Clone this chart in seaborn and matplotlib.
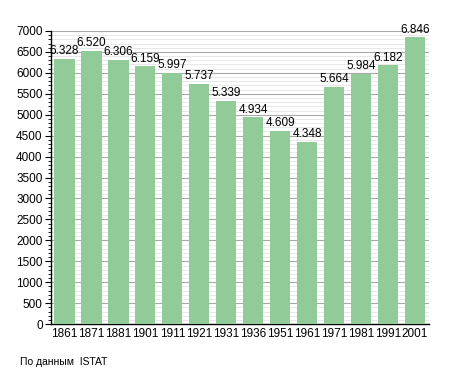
import matplotlib
matplotlib.use("Agg")
import matplotlib.pyplot as plt
import seaborn as sns
import pandas as pd
from matplotlib.ticker import MultipleLocator

# === Data ===
years = ["1861", "1871", "1881", "1901", "1911", "1921", "1931",
         "1936", "1951", "1961", "1971", "1981", "1991", "2001"]
population = [6328, 6520, 6306, 6159, 5997, 5737, 5339,
              4934, 4609, 4348, 5664, 5984, 6182, 6846]
labels = ["6.328", "6.520", "6.306", "6.159", "5.997", "5.737", "5.339",
          "4.934", "4.609", "4.348", "5.664", "5.984", "6.182", "6.846"]

df = pd.DataFrame({"year": years, "pop": population})

sns.set_style("white")
plt.rcParams["font.family"] = ["Liberation Sans", "DejaVu Sans"]
plt.rcParams["text.color"] = "black"
plt.rcParams["xtick.color"] = "black"
plt.rcParams["ytick.color"] = "black"

fig = plt.figure(figsize=(4.55, 3.73), dpi=100)
ax = fig.add_axes([0.112, 0.131, 0.83, 0.786])

sns.barplot(data=df, x="year", y="pop", color="#91cc98", saturation=1,
            width=0.75, edgecolor="none", linewidth=0, ax=ax, zorder=3)

ax.set_ylim(0, 7000)
ax.set_xlim(-0.5, len(years) - 0.5)
ax.yaxis.set_major_locator(MultipleLocator(500))
ax.yaxis.set_minor_locator(MultipleLocator(100))
ax.grid(axis="y", which="major", color="#a8a8a8", linewidth=0.8, zorder=0)
ax.grid(axis="y", which="minor", color="#e4e4e4", linewidth=0.6, zorder=0)
ax.set_axisbelow(True)

for i, (v, t) in enumerate(zip(population, labels)):
    ax.text(i, v + 40, t, ha="center", va="bottom", fontsize=8.5, zorder=4)

for s in ["top", "right"]:
    ax.spines[s].set_visible(False)
ax.spines["left"].set_color("black")
ax.spines["bottom"].set_color("black")
ax.spines["left"].set_linewidth(1)
ax.spines["bottom"].set_linewidth(1)

ax.tick_params(axis="y", which="major", length=4, width=0.8, labelsize=8.5, left=True, pad=2)
ax.tick_params(axis="y", which="minor", length=2, width=0.6, left=True)
ax.tick_params(axis="x", length=0, labelsize=8.5, pad=3)
ax.set_xlabel("")
ax.set_ylabel("")

fig.text(0.044, 0.03, "По данным  ISTAT", fontsize=7.5, ha="left", va="center")

fig.savefig("out.png", dpi=100)
